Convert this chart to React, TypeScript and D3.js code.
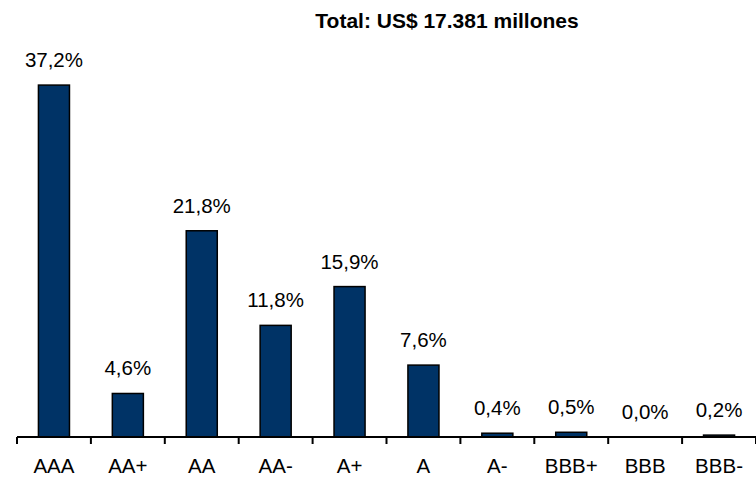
import React from "react";
import * as d3 from "d3";

const ratings = ["AAA", "AA+", "AA", "AA-", "A+", "A", "A-", "BBB+", "BBB", "BBB-"];
const shares = [37.2, 4.6, 21.8, 11.8, 15.9, 7.6, 0.4, 0.5, 0.0, 0.2];
const title = "Total: US$ 17.381 millones";

const width = 756;
const height = 477;
const axisY = 437;
const font = "Arial, 'Liberation Sans', sans-serif";

export default function App() {
  const x = d3.scaleBand<string>().domain(ratings).range([17, 756]).paddingInner(0.58).paddingOuter(0.29);
  const y = d3.scaleLinear().domain([0, 40]).range([axisY, axisY - 378.4]);

  // tick marks sit on the boundaries between categories
  const step = x.step();
  const start = 17;
  const ticks = d3.range(ratings.length + 1).map(i => start + i * step);

  const fmt = (v: number) => v.toFixed(1).replace(".", ",") + "%";

  return (
    <svg width={width} height={height} style={{ position: "absolute", left: 0, top: 0 }} fontFamily={font}>
      <rect width={width} height={height} fill="#fff" />
      <text x={447} y={28} textAnchor="middle" fontSize={21} fontWeight="bold">{title}</text>

      {ratings.map((r, i) => {
        const v = shares[i];
        const top = y(v);
        return (
          <g key={r}>
            {v > 0 && (
              <rect x={x(r)} y={top} width={x.bandwidth()} height={axisY - top}
                fill="#003366" stroke="#000" strokeWidth={1.5} />
            )}
            <text x={x(r)! + x.bandwidth() / 2} y={top - 18} textAnchor="middle" fontSize={20.5}>{fmt(v)}</text>
            <text x={x(r)! + x.bandwidth() / 2} y={473} textAnchor="middle" fontSize={20.5}>{r}</text>
          </g>
        );
      })}

      <line x1={start} x2={width} y1={axisY} y2={axisY} stroke="#000" strokeWidth={2} />
      {ticks.map((t, i) => (
        <line key={i} x1={t} x2={t} y1={axisY} y2={axisY + 7} stroke="#000" strokeWidth={2} />
      ))}
    </svg>
  );
}
